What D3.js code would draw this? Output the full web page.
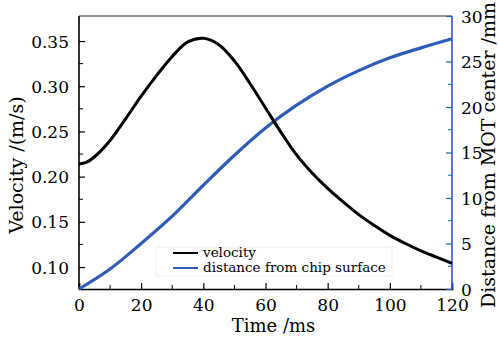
<!DOCTYPE html>
<html>
<head>
<meta charset="utf-8">
<script src="https://cdn.jsdelivr.net/npm/d3@7"></script>
<style>
  body { margin: 0; background: #fff; }
  text { font-family: "DejaVu Serif", serif; }
</style>
</head>
<body>
<div id="chart"></div>
<script>
// data
const timeMs = [0, 2.5, 5, 10, 15, 20, 25, 30, 35, 40, 45, 50, 55, 60, 65, 70, 75, 80, 85, 90, 95, 100, 105, 110, 115, 120];
const velocity = [0.214, 0.216, 0.222, 0.240, 0.264, 0.289, 0.312, 0.333, 0.349, 0.353, 0.346, 0.328, 0.303, 0.276, 0.249, 0.224, 0.204, 0.187, 0.172, 0.158, 0.146, 0.135, 0.126, 0.118, 0.111, 0.104];
const distTime = [0, 10, 20, 30, 40, 50, 60, 70, 80, 90, 100, 110, 120];
const distance = [0, 2.2, 5.0, 8.0, 11.4, 14.7, 17.7, 20.2, 22.3, 24.0, 25.4, 26.5, 27.5];

const xTicks = [0, 20, 40, 60, 80, 100, 120];
const xMinor = [10, 30, 50, 70, 90, 110];
const vTicks = [0.10, 0.15, 0.20, 0.25, 0.30, 0.35];
const vMinor = [0.125, 0.175, 0.225, 0.275, 0.325];
const dTicks = [0, 5, 10, 15, 20, 25, 30];
const dMinor = [2.5, 7.5, 12.5, 17.5, 22.5, 27.5];
const legendLabels = ["velocity", "distance from chip surface"];

const blue = "#2f5cb6";

const margin = {top: 16, right: 47, bottom: 48, left: 79},
  width = 499 - margin.left - margin.right,
  height = 337 - margin.top - margin.bottom;

const svg = d3.select("#chart")
  .append("svg")
    .attr("width", 499)
    .attr("height", 337)
  .append("g")
    .attr("transform", `translate(${margin.left},${margin.top})`);

const x = d3.scaleLinear().domain([0, 120]).range([0, width]);
const yV = d3.scaleLinear().domain([0.0757, 0.3777]).range([height, 0]);
const yD = d3.scaleLinear().domain([0, 30]).range([height, 0]);

// top frame line
svg.append("line")
  .attr("x1", 0).attr("x2", width)
  .attr("y1", 0).attr("y2", 0)
  .attr("stroke", "#333").attr("stroke-width", 1.2);

// bottom axis, ticks inward
const gx = svg.append("g")
  .attr("transform", `translate(0,${height})`)
  .call(d3.axisBottom(x).tickValues(xTicks).tickSize(-6).tickPadding(10).tickFormat(d3.format("d")));
gx.append("g").selectAll("line").data(xMinor).join("line")
  .attr("x1", d => x(d)).attr("x2", d => x(d))
  .attr("y1", 0).attr("y2", -4).attr("stroke", "#000");

// left axis
const gl = svg.append("g")
  .call(d3.axisLeft(yV).tickValues(vTicks).tickSize(-6).tickPadding(10).tickFormat(d3.format(".2f")));
gl.append("g").selectAll("line").data(vMinor).join("line")
  .attr("x1", 0).attr("x2", 4)
  .attr("y1", d => yV(d)).attr("y2", d => yV(d)).attr("stroke", "#000");

// right axis in blue
const gr = svg.append("g")
  .attr("transform", `translate(${width},0)`)
  .call(d3.axisRight(yD).tickValues(dTicks).tickSize(-6).tickPadding(9).tickFormat(d3.format("d")));
gr.selectAll("path, line").attr("stroke", blue);
gr.append("g").selectAll("line").data(dMinor).join("line")
  .attr("x1", 0).attr("x2", -4)
  .attr("y1", d => yD(d)).attr("y2", d => yD(d)).attr("stroke", blue);

[gx, gl, gr].forEach(g => {
  g.select(".domain").attr("stroke-width", 1.6);
  g.selectAll(".tick line").attr("stroke-width", 1.2);
  g.selectAll("text").style("font-size", "17px").attr("fill", "#000");
});
gl.selectAll(".tick text").attr("dy", "0.36em");
gr.selectAll(".tick text").attr("dy", "0.36em");
gl.select(".domain").attr("d", `M0,${height}V0`);
gr.select(".domain").attr("d", `M0,${height}V0`);

// the curves
const lineV = d3.line()
  .x((d, i) => x(timeMs[i]))
  .y(d => yV(d))
  .curve(d3.curveCatmullRom.alpha(0.5));
const lineD = d3.line()
  .x((d, i) => x(distTime[i]))
  .y(d => yD(d))
  .curve(d3.curveCatmullRom.alpha(0.5));

svg.append("path")
  .datum(distance)
  .attr("d", lineD)
  .attr("fill", "none")
  .attr("stroke", blue)
  .attr("stroke-width", 3.2);

svg.append("path")
  .datum(velocity)
  .attr("d", lineV)
  .attr("fill", "none")
  .attr("stroke", "#000")
  .attr("stroke-width", 3);

// legend
const leg = svg.append("g").attr("transform", `translate(${156 - margin.left},${247 - margin.top})`);
leg.append("rect")
  .attr("width", 236).attr("height", 29)
  .attr("fill", "#fff").attr("stroke", "#f0f0f0");
leg.selectAll(".lgline").data(legendLabels).join("line")
  .attr("x1", 17).attr("x2", 42)
  .attr("y1", (d, i) => 6 + i * 15).attr("y2", (d, i) => 6 + i * 15)
  .attr("stroke", (d, i) => i === 0 ? "#000" : blue)
  .attr("stroke-width", 2);
leg.selectAll(".lgtext").data(legendLabels).join("text")
  .attr("x", 47)
  .attr("y", (d, i) => 10 + i * 15)
  .style("font-size", "13.5px")
  .text(d => d);

// axis titles
svg.append("text")
  .attr("text-anchor", "middle")
  .attr("x", width / 2 + 8)
  .attr("y", height + 43)
  .style("font-size", "18px")
  .text("Time /ms");

svg.append("text")
  .attr("text-anchor", "middle")
  .attr("transform", `translate(${23 - margin.left},${165 - margin.top}) rotate(-90)`)
  .style("font-size", "19px")
  .text("Velocity /(m/s)");

svg.append("text")
  .attr("text-anchor", "middle")
  .attr("transform", `translate(${495 - margin.left},${155 - margin.top}) rotate(-90)`)
  .style("font-size", "19px")
  .text("Distance from MOT center /mm");
</script>
</body>
</html>
